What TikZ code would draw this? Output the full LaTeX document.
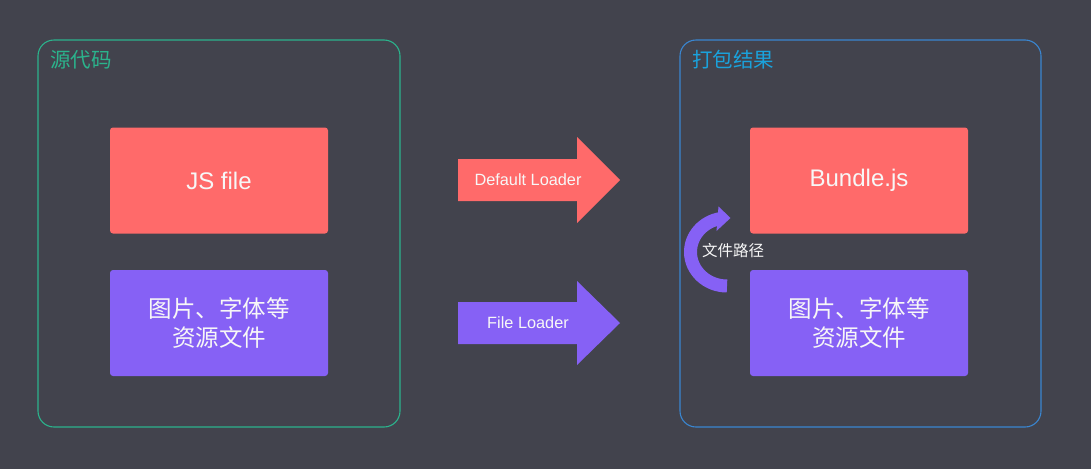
\documentclass[tikz,border=0pt]{standalone}
\usepackage{fontspec}
\setmainfont{Noto Sans CJK SC}
\newfontfamily\latin{Liberation Sans}
\definecolor{bg}{HTML}{42434D}
\definecolor{redbox}{HTML}{FF6A6A}
\definecolor{purplebox}{HTML}{8661F5}
\definecolor{greenline}{HTML}{2BB38C}
\definecolor{blueline}{HTML}{3A86D0}
\definecolor{bluetitle}{HTML}{1AA2DC}
\definecolor{txt}{HTML}{F7F7F7}
\begin{document}
\begin{tikzpicture}[x=1pt,y=-1pt,
  panel/.style={line width=1.1pt,rounded corners=16pt},
  block/.style={rounded corners=3pt,minimum width=218pt,minimum height=106pt,inner sep=0pt,text=txt},
  bigtxt/.style={font=\fontsize{24}{29}\selectfont\latin,align=center},
  cjktxt/.style={font=\fontsize{23.5}{29}\selectfont,align=center},
  loadertxt/.style={font=\fontsize{16.3}{18}\selectfont\latin,text=txt},
  title/.style={font=\fontsize{20.5}{24}\selectfont,anchor=west,inner sep=0pt}]
\fill[bg] (0,0) rectangle (1091,469);
\useasboundingbox (0,0) rectangle (1091,469);
% panels
\draw[panel,greenline] (38,40) rectangle (400,427);
\draw[panel,blueline] (680,40) rectangle (1041,427);
\node[title,text=greenline] (srctitle) at (50,60) {源代码};
\node[title,text=bluetitle] (outtitle) at (692,60) {打包结果};
% blocks
\node[block,fill=redbox,bigtxt] (js) at (219,180.5) {JS file};
\node[block,fill=purplebox,cjktxt] (res) at (219,323) {图片、字体等\\资源文件};
\node[block,fill=redbox,bigtxt] (bundle) at (859,180.5) {Bundle.js};
\node[block,fill=purplebox,cjktxt] (res2) at (859,323) {图片、字体等\\资源文件};
% loader arrows
\fill[redbox] (458,159) -- (577,159) -- (577,137) -- (620,180) -- (577,223) -- (577,201) -- (458,201) -- cycle;
\fill[purplebox] (458,302) -- (577,302) -- (577,281) -- (620,323) -- (577,365) -- (577,344) -- (458,344) -- cycle;
\node[loadertxt] (dl) at (528,180) {Default Loader};
\node[loadertxt] (fl) at (528,323) {File Loader};
% curved arrow
\draw[purplebox,line width=13pt]
  (727,286) arc[start angle=90,end angle=260,x radius=36.5,y radius=34];
\fill[purplebox] (718.5,206.5) -- (730.5,218) -- (716.5,231) -- cycle;
\node[font=\fontsize{15.5}{17}\selectfont,text=txt] (path) at (733,251) {文件路径};
\end{tikzpicture}
\end{document}
